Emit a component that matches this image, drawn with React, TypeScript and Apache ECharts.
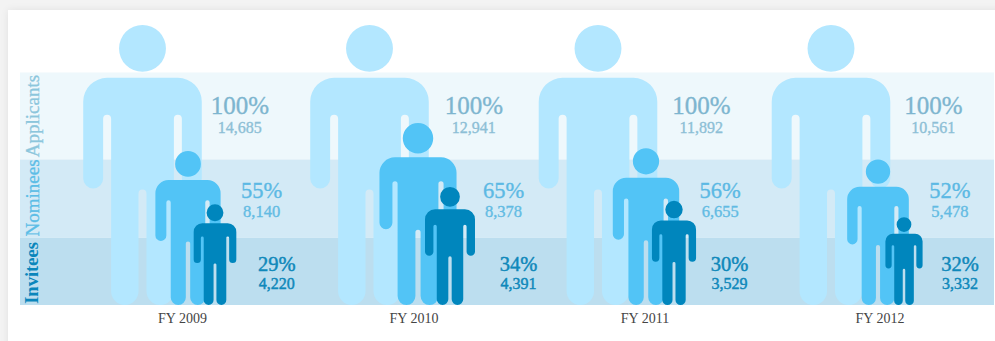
import React, { useEffect, useRef } from "react";
import * as echarts from "echarts";

const years = ["FY 2009", "FY 2010", "FY 2011", "FY 2012"];
const applicantPct = [100, 100, 100, 100];
const applicantCounts = ["14,685", "12,941", "11,892", "10,561"];
const nomineePct = [55, 65, 56, 52];
const nomineeCounts = ["8,140", "8,378", "6,655", "5,478"];
const inviteePct = [29, 34, 30, 32];
const inviteeCounts = ["4,220", "4,391", "3,529", "3,332"];
const tierNames = ["Applicants", "Nominees", "Invitees"];
const tierBounds = [[83, 52], [52, 24], [24, 0]];

// Invitee icons are not drawn at strict proportion to the percentage.
const inviteeIconScale = [1.24, 1.24, 1.24, 0.98];

// Layout, in pixels, per fiscal year.
const columnNudge = [0, -2.5, -3.5, 0];
const nomineeShift = [45.5, 48.5, 48, 47];
const inviteeShift = [27, 32, 28, 26];
const applicantGap = [8, 15, 14, 13];
const nomineeGap = [20, 26, 20, 20];
const inviteeGap = [22, 25, 15, 19];
const yearLabelShift = [40, 44.5, 47, 49];

const SERIF = '"Liberation Serif", serif';
const PERSON =
  "M59.5 0A23.5 23.5 0 1 1 59.5 47A23.5 23.5 0 1 1 59.5 0Z" +
  "M24 53H95A24 24 0 0 1 119 77V154A10 10 0 0 1 99 154V94A4 4 0 0 0 91 94V267.25" +
  "A13.75 13.75 0 0 1 63.5 267.25V169A4 4 0 0 0 55.5 169V267.25A13.75 13.75 0 0 1 28 267.25" +
  "V94A4 4 0 0 0 20 94V154A10 10 0 0 1 0 154V77A24 24 0 0 1 24 53Z";
const PERSON_ASPECT = 119 / 281;

type Tier = {
  name: string;
  pct: number[];
  counts: string[];
  scale: number[];
  fill: string;
  pctColor: string;
  countColor: string;
  pctSize: number;
  countSize: number;
  pctHalf: number;
  pctY: number;
  countY: number;
  strokeWidth: number;
  centre: (i: number, base: number) => number;
  gap: number[];
};

const unit = [1, 1, 1, 1];
const personWidth = (pct: number, scale: number) => pct * scale * 2.8 * PERSON_ASPECT;

const tiers: Tier[] = [
  {
    name: tierNames[0], pct: applicantPct, counts: applicantCounts, scale: unit,
    fill: "#b3e7ff", pctColor: "#7db5cf", countColor: "#8dbfd6",
    pctSize: 25, countSize: 16, pctHalf: 30, pctY: 105.5, countY: 127.5, strokeWidth: 0.35,
    centre: (_i, base) => base, gap: applicantGap,
  },
  {
    name: tierNames[1], pct: nomineePct, counts: nomineeCounts, scale: unit,
    fill: "#52c4f6", pctColor: "#5cb9e4", countColor: "#62bbe3",
    pctSize: 22.5, countSize: 16.5, pctHalf: 21, pctY: 190.5, countY: 211.5, strokeWidth: 0.35,
    centre: (i, base) => base + nomineeShift[i], gap: nomineeGap,
  },
  {
    name: tierNames[2], pct: inviteePct, counts: inviteeCounts, scale: inviteeIconScale,
    fill: "#0086bd", pctColor: "#0f88ba", countColor: "#0f88ba",
    pctSize: 20.5, countSize: 16, pctHalf: 18.5, pctY: 263.5, countY: 283.5, strokeWidth: 0.45,
    centre: (i, base) => base + nomineeShift[i] + inviteeShift[i], gap: inviteeGap,
  },
];

const bandFills = ["#eef8fc", "#d3eaf6", "#bcdeef"];
const tierLabelColors = ["#8cc6dc", "#5cbde6", "#0a86bb"];
const tierLabelCentres = [116, 198, 273];

export default function App() {
  const ref = useRef<HTMLDivElement>(null);

  useEffect(() => {
    if (!ref.current) return;
    const chart = echarts.init(ref.current, undefined, { renderer: "svg" });

    const bandSeries = {
      type: "custom",
      coordinateSystem: "cartesian2d",
      silent: true,
      z: 1,
      data: tierBounds.map((b, i) => [0, b[0], b[1], i]),
      encode: { x: 0, y: [1, 2] },
      renderItem: (_p: any, api: any) => {
        const i = api.value(3);
        const top = api.coord([0, api.value(1)])[1];
        const bottom = api.coord([0, api.value(2)])[1];
        return {
          type: "group",
          children: [
            {
              type: "rect",
              shape: { x: 20, y: top, width: 974, height: bottom - top },
              style: { fill: bandFills[i] },
            },
            {
              type: "text",
              x: 32,
              y: tierLabelCentres[i],
              rotation: Math.PI / 2,
              style: {
                text: tierNames[i],
                fill: tierLabelColors[i],
                stroke: tierLabelColors[i],
                lineWidth: i === 2 ? 0 : 0.3,
                fontFamily: SERIF,
                fontSize: i === 2 ? 18.5 : 19,
                fontWeight: i === 2 ? "bold" : "normal",
                align: "center",
                verticalAlign: "middle",
              },
            },
          ],
        };
      },
    };

    const personSeries = tiers.map((tier, t) => ({
      type: "custom",
      name: tier.name,
      coordinateSystem: "cartesian2d",
      silent: true,
      z: 2 + t,
      data: tier.pct.map((v, i) => [i, v]),
      encode: { x: 0, y: 1 },
      renderItem: (_p: any, api: any) => {
        const i = api.value(0);
        const pct = api.value(1);
        const height = pct * tier.scale[i];
        const base = api.coord([i, 0]);
        const top = api.coord([i, height])[1];
        const cx = tier.centre(i, base[0] + columnNudge[i]);
        const w = personWidth(pct, tier.scale[i]);
        const labelX = cx + w / 2 + tier.gap[i] + tier.pctHalf;
        return {
          type: "group",
          children: [
            {
              type: "path",
              shape: {
                pathData: PERSON,
                layout: "cover",
                x: cx - w / 2,
                y: top,
                width: w,
                height: base[1] - top,
              },
              style: { fill: tier.fill },
            },
            {
              type: "text",
              x: labelX,
              y: tier.pctY,
              style: {
                text: `${pct}%`,
                fill: tier.pctColor,
                stroke: tier.pctColor,
                lineWidth: tier.strokeWidth,
                fontFamily: SERIF,
                fontSize: tier.pctSize,
                align: "center",
                verticalAlign: "middle",
              },
            },
            {
              type: "text",
              x: labelX,
              y: tier.countY,
              style: {
                text: tier.counts[i],
                fill: tier.countColor,
                stroke: tier.countColor,
                lineWidth: tier.strokeWidth,
                fontFamily: SERIF,
                fontSize: tier.countSize,
                align: "center",
                verticalAlign: "middle",
              },
            },
          ],
        };
      },
    }));

    const yearSeries = {
      type: "custom",
      coordinateSystem: "cartesian2d",
      silent: true,
      z: 6,
      data: years.map((_y, i) => [i, 0]),
      encode: { x: 0, y: 1 },
      renderItem: (_p: any, api: any) => {
        const i = api.value(0);
        const p = api.coord([i, 0]);
        return {
          type: "text",
          x: p[0] + columnNudge[i] + yearLabelShift[i],
          y: p[1] + 13,
          style: {
            text: years[i],
            fill: "#444444",
            fontFamily: SERIF,
            fontSize: 14,
            align: "center",
            verticalAlign: "middle",
          },
        };
      },
    };

    chart.setOption({
      animation: false,
      backgroundColor: "transparent",
      grid: { left: 27.75, width: 918, top: 25, height: 280 },
      xAxis: { type: "category", data: years, show: false },
      yAxis: { type: "value", min: 0, max: 100, show: false },
      series: [bandSeries, ...personSeries, yearSeries],
    });

    return () => chart.dispose();
  }, []);

  return (
    <div style={{ position: "fixed", inset: 0, overflow: "hidden", background: "#f3f3f3" }}>
      <div
        style={{
          position: "absolute",
          left: 8,
          top: 10,
          width: 1100,
          height: 400,
          background: "#ffffff",
          boxShadow: "0 0 8px rgba(0,0,0,0.08)",
        }}
      />
      <div ref={ref} style={{ position: "absolute", left: 0, top: 0, width: 995, height: 341 }} />
    </div>
  );
}
